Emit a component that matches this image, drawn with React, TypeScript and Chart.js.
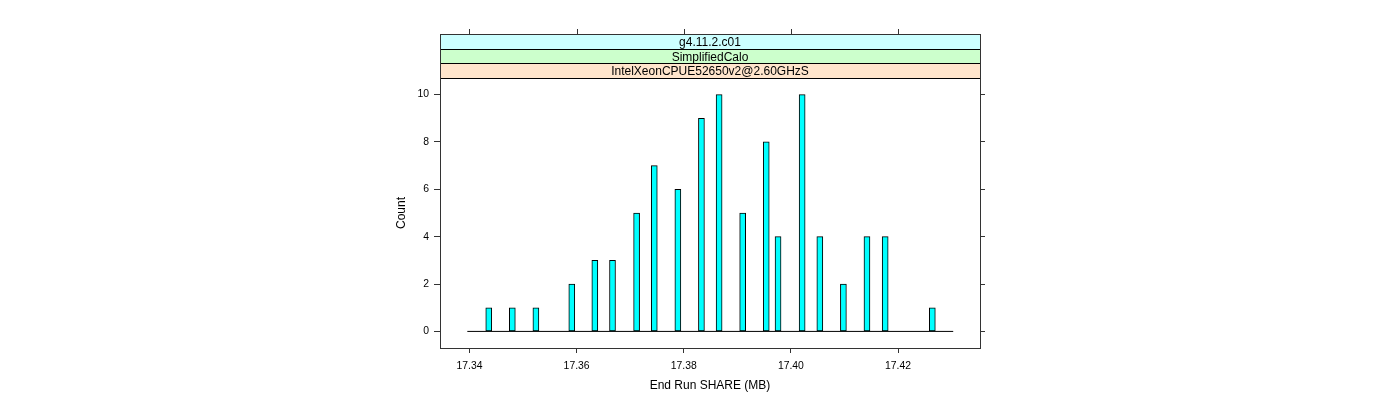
import React, { useEffect, useRef } from "react";
import { Chart, registerables } from "chart.js";

Chart.register(...registerables);

// Strip labels, bottom (closest to panel) to top
const STRIP_LABELS = ["IntelXeonCPUE52650v2@2.60GHzS", "SimplifiedCalo", "g4.11.2.c01"];
const STRIP_COLORS = ["#ffe5cc", "#ccffcc", "#ccffff"];

// Histogram bars: bin centers (MB) and counts
const BIN_CENTERS = [
  17.3436, 17.348, 17.3524, 17.3591, 17.3634, 17.3667, 17.3712, 17.3745, 17.3789, 17.3833,
  17.3866, 17.391, 17.3954, 17.3976, 17.4021, 17.4054, 17.4098, 17.4142, 17.4176, 17.4264,
];
const COUNTS = [1, 1, 1, 2, 3, 3, 5, 7, 6, 9, 10, 5, 8, 4, 10, 4, 2, 4, 4, 1];

// Range of histogram breaks (drawn as zero-height baseline)
const BREAKS_RANGE = [17.3396, 17.4303];

const X_TICKS = [17.34, 17.36, 17.38, 17.4, 17.42];
const Y_TICKS = [0, 2, 4, 6, 8, 10];
const X_LIMITS = [17.3345, 17.4353];
const Y_LIMITS = [-0.7, 10.7];

const FONT = "'Liberation Sans', Arial, Helvetica, sans-serif";
const AXIS_COL = "#333333";

const latticePlugin = {
  id: "latticeDecor",
  afterDraw(chart: any) {
    const { ctx, chartArea: a, scales } = chart;
    const stripTop = 34;
    const n = STRIP_LABELS.length;
    const h = (a.top - stripTop) / n;
    ctx.save();
    ctx.lineWidth = 1;
    ctx.font = `12px ${FONT}`;
    ctx.textAlign = "center";
    ctx.textBaseline = "middle";
    for (let i = 0; i < n; i++) {
      const y1 = Math.round(a.top - h * (i + 1));
      const y2 = Math.round(a.top - h * i);
      ctx.fillStyle = STRIP_COLORS[i];
      ctx.fillRect(a.left, y1, a.right - a.left, y2 - y1);
      ctx.strokeStyle = "#000";
      ctx.strokeRect(Math.round(a.left) + 0.5, y1 + 0.5, Math.round(a.right - a.left), y2 - y1);
      ctx.fillStyle = "#000";
      ctx.fillText(STRIP_LABELS[i], (a.left + a.right) / 2, (y1 + y2) / 2 + 1.5);
    }
    // panel border
    ctx.strokeStyle = AXIS_COL;
    ctx.strokeRect(
      Math.round(a.left) + 0.5,
      stripTop + 0.5,
      Math.round(a.right - a.left),
      Math.round(a.bottom - stripTop)
    );
    // top tick marks above strips
    X_TICKS.forEach((v) => {
      const x = Math.round(scales.x.getPixelForValue(v)) + 0.5;
      ctx.beginPath();
      ctx.moveTo(x, stripTop);
      ctx.lineTo(x, stripTop - 5);
      ctx.stroke();
    });
    ctx.restore();
  },
};

export default function App() {
  const ref = useRef<HTMLCanvasElement | null>(null);

  useEffect(() => {
    if (!ref.current) return;
    const chart = new Chart(ref.current, {
      type: "bar",
      data: {
        datasets: [
          {
            type: "line",
            data: BREAKS_RANGE.map((x) => ({ x, y: 0 })),
            borderColor: "#000",
            borderWidth: 1,
            pointRadius: 0,
            order: 2,
          } as any,
          {
            type: "bar",
            data: BIN_CENTERS.map((x, i) => ({ x, y: COUNTS[i] })),
            backgroundColor: "#00ffff",
            borderColor: "#000",
            borderWidth: 1,
            borderSkipped: false,
            barThickness: 6,
            order: 1,
          } as any,
        ],
      },
      options: {
        animation: false,
        responsive: false,
        events: [],
        layout: { padding: { top: 78, left: 0, right: 0, bottom: 0 } },
        plugins: { legend: { display: false }, tooltip: { enabled: false } },
        scales: {
          x: {
            type: "linear",
            position: "bottom",
            min: X_LIMITS[0],
            max: X_LIMITS[1],
            offset: false,
            grid: { display: true, drawOnChartArea: false, drawTicks: true, tickLength: 5, color: AXIS_COL, offset: false },
            border: { display: false },
            afterBuildTicks: (s: any) => {
              s.ticks = X_TICKS.map((value) => ({ value }));
            },
            afterFit: (s: any) => {
              s.height = 52;
            },
            ticks: {
              autoSkip: false,
              maxRotation: 0,
              padding: 6.5,
              color: "#000",
              font: { family: FONT, size: 10.4 },
              callback: (v: any) => Number(v).toFixed(2),
            },
            title: {
              display: true,
              text: "End Run SHARE (MB)",
              color: "#000",
              font: { family: FONT, size: 12 },
              padding: { top: 0, bottom: 7.5 },
            },
          },
          y: {
            type: "linear",
            position: "left",
            min: Y_LIMITS[0],
            max: Y_LIMITS[1],
            grid: { display: true, drawOnChartArea: false, drawTicks: true, tickLength: 6, color: AXIS_COL },
            border: { display: false },
            afterBuildTicks: (s: any) => {
              s.ticks = Y_TICKS.map((value) => ({ value }));
            },
            afterFit: (s: any) => {
              s.width = 440;
            },
            ticks: {
              padding: 5,
              color: "#000",
              font: { family: FONT, size: 10.4 },
              callback: (v: any) => String(v),
            },
            title: {
              display: true,
              text: "Count",
              color: "#000",
              font: { family: FONT, size: 12 },
              padding: { top: 394.8, bottom: 0 },
            },
          },
          y2: {
            type: "linear",
            position: "right",
            min: Y_LIMITS[0],
            max: Y_LIMITS[1],
            grid: { display: true, drawOnChartArea: false, drawTicks: true, tickLength: 5, color: AXIS_COL },
            border: { display: false },
            afterBuildTicks: (s: any) => {
              s.ticks = Y_TICKS.map((value) => ({ value }));
            },
            afterFit: (s: any) => {
              s.width = 420;
            },
            ticks: { display: false },
          },
        },
      },
      plugins: [latticePlugin],
    } as any);
    return () => chart.destroy();
  }, []);

  return (
    <div style={{ position: "absolute", left: 0, top: 0, width: 1400, height: 400, background: "#fff" }}>
      <canvas ref={ref} width={1400} height={400} style={{ display: "block", width: 1400, height: 400 }} />
    </div>
  );
}
